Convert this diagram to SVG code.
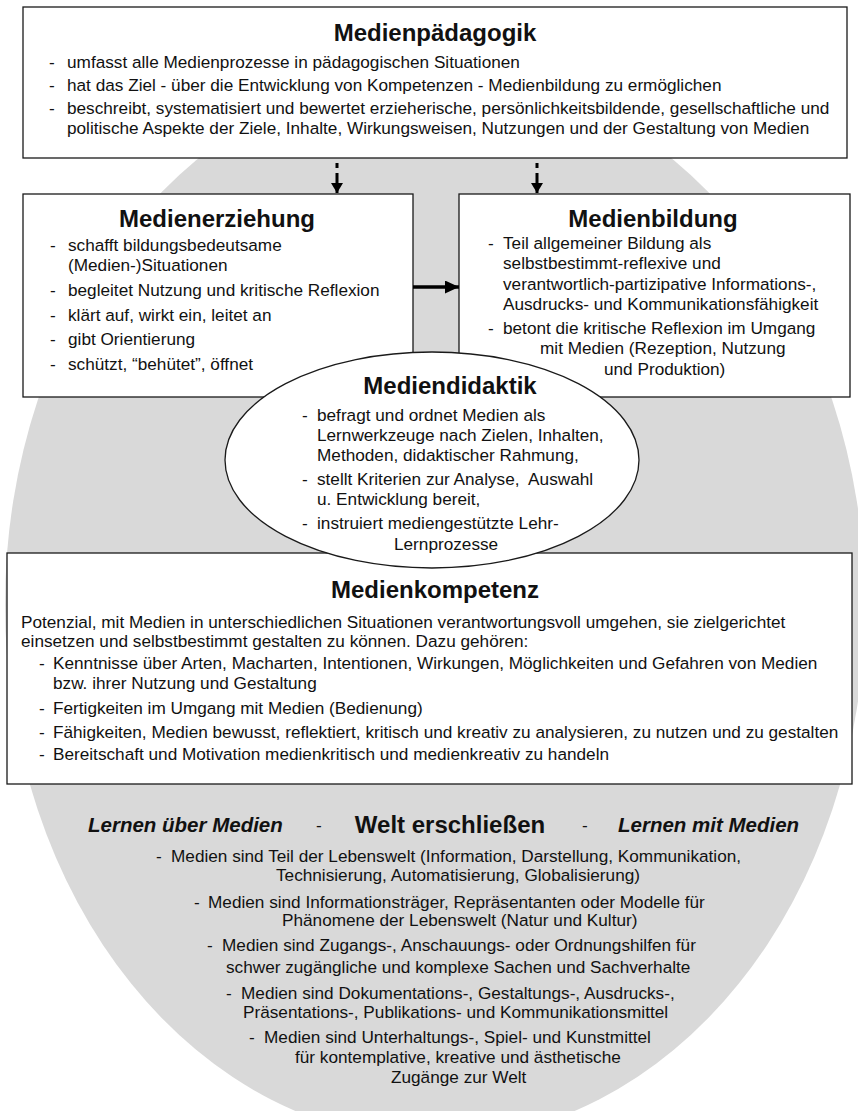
<svg xmlns="http://www.w3.org/2000/svg" width="858" height="1111" viewBox="0 0 858 1111">
<style>
text{font-family:"Liberation Sans",Arial,sans-serif;fill:#111;font-size:17.2px}
.t{font-weight:bold;font-size:24px;text-anchor:middle}
.box{fill:#fff;stroke:#1a1a1a;stroke-width:1.3}
.bi{font-weight:bold;font-style:italic;font-size:20.5px}
.conn{stroke:#000;fill:none}
</style>
<defs>
<marker id="headS" markerUnits="userSpaceOnUse" markerWidth="10" markerHeight="12" refX="10" refY="6" orient="auto"><path d="M0,0 L10,6 L0,12 z" fill="#000"/></marker>
<marker id="headL" markerUnits="userSpaceOnUse" markerWidth="14" markerHeight="13" refX="14" refY="6.5" orient="auto"><path d="M0,0 L14,6.5 L0,13 z" fill="#000"/></marker>
</defs>
<rect width="858" height="1111" fill="#fff"/>
<ellipse id="background" cx="435" cy="605" rx="430" ry="535" fill="#d9d9d9"/>

<g id="medienpaedagogik">
<rect class="box" x="23" y="7" width="824" height="151"/>
<text class="t" x="435" y="41">Medienpädagogik</text>
<text y="68"><tspan x="49">-</tspan><tspan x="67">umfasst alle Medienprozesse in pädagogischen Situationen</tspan></text>
<text y="91"><tspan x="49">-</tspan><tspan x="67">hat das Ziel - über die Entwicklung von Kompetenzen - Medienbildung zu ermöglichen</tspan></text>
<text y="114"><tspan x="49">-</tspan><tspan x="67">beschreibt, systematisiert und bewertet erzieherische, persönlichkeitsbildende, gesellschaftliche und</tspan></text>
<text x="67" y="134">politische Aspekte der Ziele, Inhalte, Wirkungsweisen, Nutzungen und der Gestaltung von Medien</text>
</g>

<g id="medienerziehung">
<rect class="box" x="23" y="194" width="390" height="203"/>
<text class="t" x="217" y="227">Medienerziehung</text>
<text y="251"><tspan x="50">-</tspan><tspan x="68">schafft bildungsbedeutsame</tspan></text>
<text x="68" y="271">(Medien-)Situationen</text>
<text y="296"><tspan x="50">-</tspan><tspan x="68">begleitet Nutzung und kritische Reflexion</tspan></text>
<text y="321"><tspan x="50">-</tspan><tspan x="68">klärt auf, wirkt ein, leitet an</tspan></text>
<text y="345"><tspan x="50">-</tspan><tspan x="68">gibt Orientierung</tspan></text>
<text y="370"><tspan x="50">-</tspan><tspan x="68">schützt, “behütet”, öffnet</tspan></text>
</g>

<g id="medienbildung">
<rect class="box" x="459" y="194" width="391" height="203"/>
<text class="t" x="653" y="227">Medienbildung</text>
<text y="249"><tspan x="488">-</tspan><tspan x="503">Teil allgemeiner Bildung als</tspan></text>
<text x="503" y="269">selbstbestimmt-reflexive und</text>
<text x="503" y="290">verantwortlich-partizipative Informations-,</text>
<text x="503" y="310">Ausdrucks- und Kommunikationsfähigkeit</text>
<text y="334"><tspan x="488">-</tspan><tspan x="503">betont die kritische Reflexion im Umgang</tspan></text>
<text x="540" y="354">mit Medien (Rezeption, Nutzung</text>
<text x="604" y="375">und Produktion)</text>
</g>

<g id="medienkompetenz">
<rect class="box" x="7" y="553" width="845" height="231"/>
<text class="t" x="435" y="598">Medienkompetenz</text>
<text x="21" y="628">Potenzial, mit Medien in unterschiedlichen Situationen verantwortungsvoll umgehen, sie zielgerichtet</text>
<text x="21" y="647">einsetzen und selbstbestimmt gestalten zu können. Dazu gehören:</text>
<text y="669"><tspan x="39">-</tspan><tspan x="53">Kenntnisse über Arten, Macharten, Intentionen, Wirkungen, Möglichkeiten und Gefahren von Medien</tspan></text>
<text x="53" y="689">bzw. ihrer Nutzung und Gestaltung</text>
<text y="714"><tspan x="39">-</tspan><tspan x="53">Fertigkeiten im Umgang mit Medien (Bedienung)</tspan></text>
<text y="738"><tspan x="39">-</tspan><tspan x="53">Fähigkeiten, Medien bewusst, reflektiert, kritisch und kreativ zu analysieren, zu nutzen und zu gestalten</tspan></text>
<text y="760"><tspan x="39">-</tspan><tspan x="53">Bereitschaft und Motivation medienkritisch und medienkreativ zu handeln</tspan></text>
</g>

<g id="connectors">
<path class="conn" d="M337,163 L337,193" stroke-width="3" stroke-dasharray="5 5 30" marker-end="url(#headS)"/>
<path class="conn" d="M537,163 L537,193" stroke-width="3" stroke-dasharray="5 5 30" marker-end="url(#headS)"/>
<path class="conn" d="M413,287 L459,287" stroke-width="3.5" marker-end="url(#headL)"/>
</g>

<g id="mediendidaktik">
<ellipse cx="432" cy="460" rx="207" ry="108" fill="#fff" stroke="#1a1a1a" stroke-width="1.3"/>
<text class="t" x="450" y="394">Mediendidaktik</text>
<text y="421"><tspan x="302">-</tspan><tspan x="317">befragt und ordnet Medien als</tspan></text>
<text x="317" y="441">Lernwerkzeuge nach Zielen, Inhalten,</text>
<text x="317" y="461">Methoden, didaktischer Rahmung,</text>
<text y="485" xml:space="preserve"><tspan x="302">-</tspan><tspan x="317">stellt Kriterien zur Analyse,  Auswahl</tspan></text>
<text x="317" y="505">u. Entwicklung bereit,</text>
<text y="529"><tspan x="302">-</tspan><tspan x="317">instruiert mediengestützte Lehr-</tspan></text>
<text x="394" y="550">Lernprozesse</text>
</g>

<g id="welt-erschliessen">
<text class="bi" x="88" y="832">Lernen über Medien</text>
<text x="316" y="831">-</text>
<text class="t" x="450" y="833">Welt erschließen</text>
<text x="582" y="831">-</text>
<text class="bi" x="618" y="832">Lernen mit Medien</text>
<text y="862"><tspan x="156">-</tspan><tspan x="171">Medien sind Teil der Lebenswelt (Information, Darstellung, Kommunikation,</tspan></text>
<text x="276" y="881">Technisierung, Automatisierung, Globalisierung)</text>
<text y="908"><tspan x="194">-</tspan><tspan x="208">Medien sind Informationsträger, Repräsentanten oder Modelle für</tspan></text>
<text x="282" y="926">Phänomene der Lebenswelt (Natur und Kultur)</text>
<text y="951"><tspan x="207">-</tspan><tspan x="222">Medien sind Zugangs-, Anschauungs- oder Ordnungshilfen für</tspan></text>
<text x="226" y="973">schwer zugängliche und komplexe Sachen und Sachverhalte</text>
<text y="999"><tspan x="226">-</tspan><tspan x="241">Medien sind Dokumentations-, Gestaltungs-, Ausdrucks-,</tspan></text>
<text x="243" y="1018">Präsentations-, Publikations- und Kommunikationsmittel</text>
<text y="1043"><tspan x="249">-</tspan><tspan x="264">Medien sind Unterhaltungs-, Spiel- und Kunstmittel</tspan></text>
<text x="295" y="1063">für kontemplative, kreative und ästhetische</text>
<text x="391" y="1083">Zugänge zur Welt</text>
</g>
</svg>
